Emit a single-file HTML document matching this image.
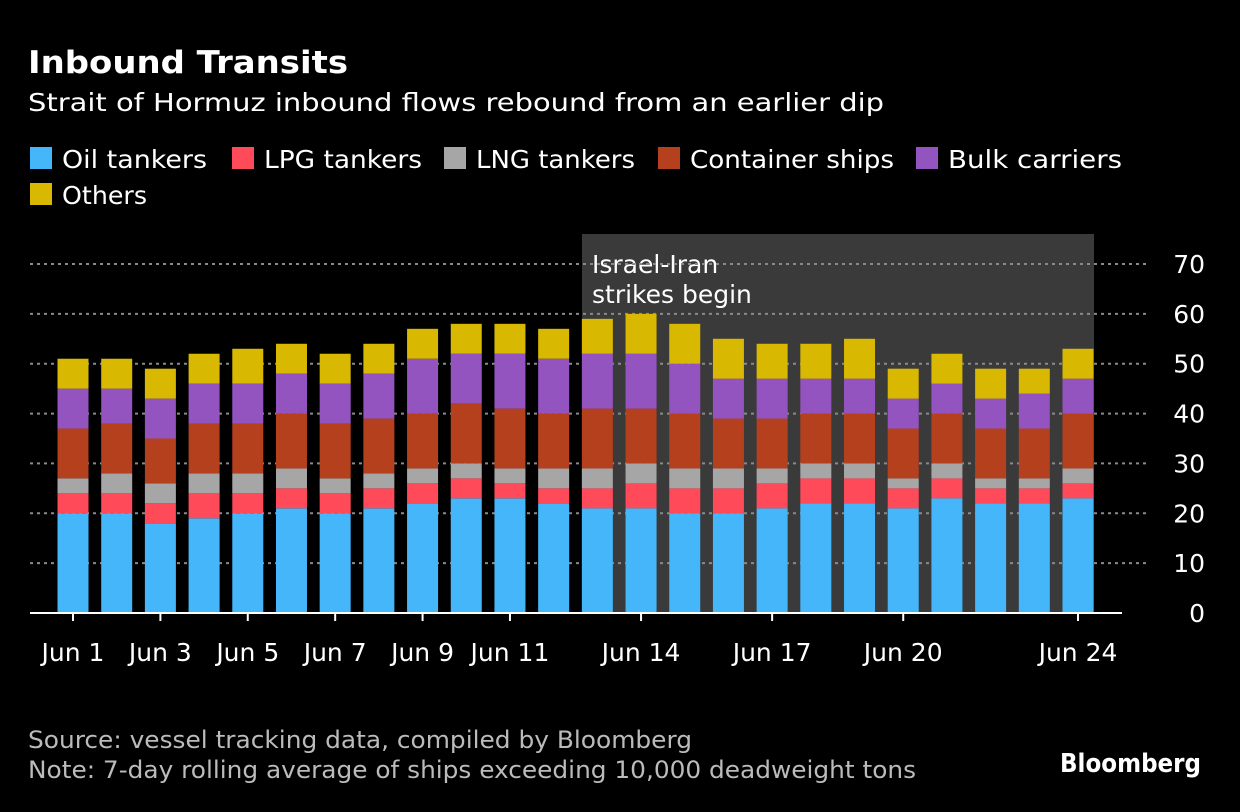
<!DOCTYPE html>
<html><head><meta charset="utf-8"><style>
html,body{margin:0;padding:0;background:#000;}
body{width:1240px;height:808px;overflow:hidden;font-family:"DejaVu Sans","Liberation Sans",sans-serif;color:#fff;}
</style></head><body>
<svg id="chart" width="1240" height="808" xmlns="http://www.w3.org/2000/svg" style="font-family:'DejaVu Sans','Liberation Sans',sans-serif">
<rect width="1240" height="808" fill="#000"/>
<text x="28" y="73" fill="#fff" font-size="31" font-weight="bold" textLength="320" lengthAdjust="spacingAndGlyphs">Inbound Transits</text>
<text x="28" y="111" fill="#fff" font-size="25" textLength="856" lengthAdjust="spacingAndGlyphs">Strait of Hormuz inbound flows rebound from an earlier dip</text>
<g id="legend"></g>
<rect x="582" y="234" width="512" height="379" fill="#3a3a3a"/>
<text fill="#fff" font-size="25"><tspan x="592" y="273">Israel-Iran</tspan><tspan x="592" y="303">strikes begin</tspan></text>
<g id="grid"></g><g id="bars"></g><g id="axes"></g>
<text x="28" y="748" fill="#bbb" font-size="24" textLength="664" lengthAdjust="spacingAndGlyphs">Source: vessel tracking data, compiled by Bloomberg</text>
<text x="28" y="778" fill="#bbb" font-size="24" textLength="888" lengthAdjust="spacingAndGlyphs">Note: 7-day rolling average of ships exceeding 10,000 deadweight tons</text>
<text x="1060" y="772" fill="#fff" font-size="26" font-weight="bold" textLength="141" lengthAdjust="spacingAndGlyphs">Bloomberg</text>
</svg>
<script>
const days = ["Jun 1","Jun 2","Jun 3","Jun 4","Jun 5","Jun 6","Jun 7","Jun 8","Jun 9","Jun 10","Jun 11","Jun 12","Jun 13","Jun 14","Jun 15","Jun 16","Jun 17","Jun 18","Jun 19","Jun 20","Jun 21","Jun 22","Jun 23","Jun 24"];
const tickDays = ["Jun 1","Jun 3","Jun 5","Jun 7","Jun 9","Jun 11","Jun 14","Jun 17","Jun 20","Jun 24"];
const yTicks = [0,10,20,30,40,50,60,70];
const seriesNames = ["Oil tankers","LPG tankers","LNG tankers","Container ships","Bulk carriers","Others"];
const seriesColors = ["#45b6fa","#ff4a5a","#a6a6a6","#b5401e","#9454c0","#d8b800"];
const oil = [20,20,18,19,20,21,20,21,22,23,23,22,21,21,20,20,21,22,22,21,23,22,22,23];
const lpg = [4,4,4,5,4,4,4,4,4,4,3,3,4,5,5,5,5,5,5,4,4,3,3,3];
const lng = [3,4,4,4,4,4,3,3,3,3,3,4,4,4,4,4,3,3,3,2,3,2,2,3];
const container = [10,10,9,10,10,11,11,11,11,12,12,11,12,11,11,10,10,10,10,10,10,10,10,11];
const bulk = [8,7,8,8,8,8,8,9,11,10,11,11,11,11,10,8,8,7,7,6,6,6,7,7];
const others = [6,6,6,6,7,6,6,6,6,6,6,6,7,8,8,8,7,7,8,6,6,6,5,6];
const series = [oil,lpg,lng,container,bulk,others];
const NS="http://www.w3.org/2000/svg";
function mk(tag,attrs,parent){const e=document.createElementNS(NS,tag);for(const k in attrs)e.setAttribute(k,attrs[k]);parent.appendChild(e);return e;}
const y0=613, yPer=(613-264)/70;
const yScale=v=>y0-v*yPer;
const x0=73, step=(1078-73)/23, bw=31;
const xScale=i=>x0+i*step;
// legend
const lg=document.getElementById('legend');
const legendPos=[[30,158,145],[232,158,158],[444,158,159],[658,158,204],[916,158,174],[30,194,85]];
seriesNames.forEach((n,i)=>{
  const g=mk('g',{},lg);
  
  
  mk('rect',{x:legendPos[i][0],y:legendPos[i][1]-11,width:22,height:22,fill:seriesColors[i]},g);
  const t=mk('text',{x:legendPos[i][0]+32,y:legendPos[i][1]+10,fill:'#fff','font-size':25,textLength:legendPos[i][2],lengthAdjust:'spacingAndGlyphs'},g);t.textContent=n;
});
// grid
const grid=document.getElementById('grid');
yTicks.forEach(v=>{
  if(v>0){const l=mk('line',{x1:30,x2:1150,y1:yScale(v),y2:yScale(v),stroke:'#8a8a8a','stroke-width':2,'stroke-dasharray':'3,4'},grid);
  
  }
  const t=mk('text',{x:1205,y:yScale(v)+9,fill:'#fff','font-size':25,'text-anchor':'end'},grid);
  
  
  t.textContent=v;
});
// bars
const bars=document.getElementById('bars');
days.forEach((d,i)=>{
  let cum=0;
  series.forEach((s,k)=>{
    const r=mk('rect',{x:xScale(i)-bw/2,y:yScale(cum+s[i]),width:bw,height:yScale(cum)-yScale(cum+s[i]),fill:seriesColors[k]},bars);
    
    
    cum+=s[i];
  });
});
// axis
const ax=document.getElementById('axes');
const al=mk('line',{x1:30,x2:1122,y1:613,y2:613,stroke:'#fff','stroke-width':2},ax);


tickDays.forEach(d=>{
  const i=days.indexOf(d);
  mk('line',{x1:xScale(i),x2:xScale(i),y1:613,y2:621,stroke:'#fff','stroke-width':2},ax);
  const t=mk('text',{x:xScale(i),y:661,fill:'#fff','font-size':25,'text-anchor':'middle'},ax);
  
  
  t.textContent=d;
});
</script>
</body></html>
